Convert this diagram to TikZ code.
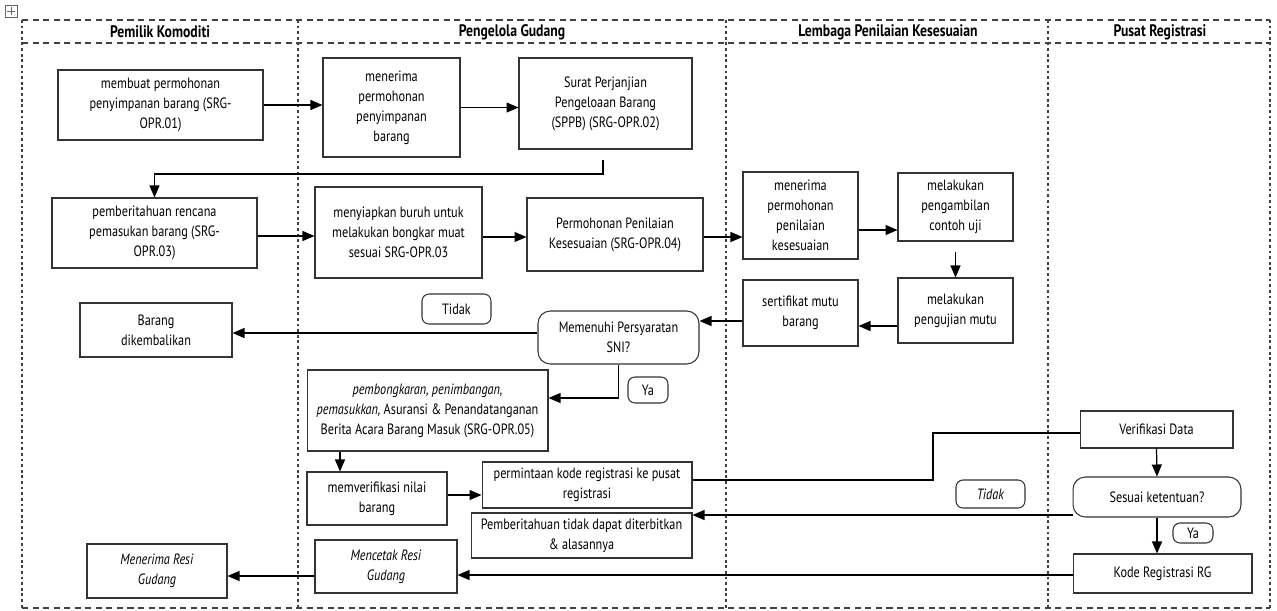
\documentclass[tikz,border=0pt]{standalone}
\usepackage{fontspec}
\setmainfont{PT Sans}[FakeStretch=0.82]
\usetikzlibrary{arrows.meta}

\begin{document}
\begin{tikzpicture}[x=0.02cm,y=-0.02cm,
    box/.style={draw=black!80,line width=0.6pt,align=center,inner sep=2pt,
      font=\fontsize{8.5}{11.4}\selectfont},
    ask/.style={box,rounded corners=7pt},
    tag/.style={box,rounded corners=4pt,inner sep=1pt},
    flow/.style={draw,line width=0.7pt,-{Triangle[length=2.4mm,width=2mm]}},
    lane/.style={draw=black!75,line width=0.7pt,dash pattern=on 1.6pt off 1.6pt},
    rim/.style={draw=black!75,line width=0.7pt,dash pattern=on 3.5pt off 2.5pt},
    head/.style={font=\fontsize{9.5}{11}\selectfont\bfseries}]

      \useasboundingbox (0,0) rectangle (1277,610);

      % table handle
      \draw[black!60,line width=0.4pt] (5,5) rectangle (17,17);
      \draw[black!60,line width=0.4pt] (11,7) -- (11,15) (7,11) -- (15,11);

      % lanes
      \draw[rim] (22,20) -- (1270,20) (22,43) -- (1270,43) (22,608) -- (1270,608);
      \draw[lane] (22,20) -- (22,608) (298,20) -- (298,608)
                  (726,20) -- (726,608) (1048,20) -- (1048,608)
                  (1270,20) -- (1270,608);

      \node[head] (h1) at (160,32)  {Pemilik Komoditi};
      \node[head] (h2) at (512,32)  {Pengelola Gudang};
      \node[head] (h3) at (888,32)  {Lembaga Penilaian Kesesuaian};
      \node[head] (h4) at (1160,32) {Pusat Registrasi};

      \begin{scope}[every node/.style={box}]
        \node[minimum width=4.10cm,minimum height=1.40cm] (A1) at (160.5,105)
          {membuat permohonan\\penyimpanan barang (SRG-\\OPR.01)};
        \node[minimum width=2.74cm,minimum height=1.98cm] (B1) at (391.5,107.5)
          {menerima\\permohonan\\penyimpanan\\barang};
        \node[minimum width=3.46cm,minimum height=1.82cm] (B2) at (605.5,103.5)
          {Surat Perjanjian\\Pengeloaan Barang\\(SPPB) (SRG-OPR.02)};
        \node[minimum width=4.10cm,minimum height=1.40cm] (A2) at (154.5,233)
          {pemberitahuan rencana\\pemasukan barang (SRG-\\OPR.03)};
        \node[minimum width=3.34cm,minimum height=1.82cm] (B3) at (398.5,232.5)
          {menyiapkan buruh untuk\\melakukan bongkar muat\\sesuai SRG-OPR.03};
        \node[minimum width=3.52cm,minimum height=1.46cm] (B4) at (615,234.5)
          {Permohonan Penilaian\\Kesesuaian (SRG-OPR.04)};
        \node[minimum width=2.30cm,minimum height=1.74cm] (C1) at (800.5,215.5)
          {menerima\\permohonan\\penilaian\\kesesuaian};
        \node[minimum width=2.30cm,minimum height=1.36cm] (C2) at (955.5,207)
          {melakukan\\pengambilan\\contoh uji};
        \node[minimum width=2.30cm,minimum height=1.30cm] (C3) at (955.5,310.5)
          {melakukan\\pengujian mutu};
        \node[minimum width=2.30cm,minimum height=1.32cm] (C4) at (800.5,313)
          {sertifikat mutu\\barang};
        \node[ask,minimum width=3.22cm,minimum height=1.06cm] (D1) at (618.5,337.5)
          {Memenuhi Persyaratan\\SNI?};
        \node[tag,minimum width=1.38cm,minimum height=0.60cm] (no1) at (456.5,309) {Tidak};
        \node[minimum width=3.04cm,minimum height=1.08cm] (A3) at (156,330)
          {Barang\\dikembalikan};
        \node[tag,minimum width=0.80cm,minimum height=0.52cm] (yes1) at (648,390) {Ya};
        \node[minimum width=4.82cm,minimum height=1.62cm] (B5) at (427.5,410.5)
          {\textit{pembongkaran, penimbangan,}\\\textit{pemasukkan,} Asuransi \& Penandatanganan\\Berita Acara Barang Masuk (SRG-OPR.05)};
        \node[minimum width=2.80cm,minimum height=1.06cm] (B6) at (377,498.5)
          {memverifikasi nilai\\barang};
        \node[minimum width=4.20cm,minimum height=0.92cm] (B7) at (587,485)
          {permintaan kode registrasi ke pusat\\registrasi};
        \node[minimum width=4.42cm,minimum height=0.90cm] (B8) at (581.5,535.5)
          {Pemberitahuan tidak dapat diterbitkan\\\& alasannya};
        \node[minimum width=2.84cm,minimum height=1.06cm] (B9) at (386,566.5)
          {\textit{Mencetak Resi}\\\textit{Gudang}};
        \node[minimum width=2.80cm,minimum height=1.08cm] (A4) at (157,571)
          {\textit{Menerima Resi}\\\textit{Gudang}};
        \node[minimum width=3.06cm,minimum height=0.74cm] (E1) at (1156.5,429.5)
          {Verifikasi Data};
        \node[ask,minimum width=3.36cm,minimum height=0.80cm] (E2) at (1157,497)
          {Sesuai ketentuan?};
        \node[tag,minimum width=1.38cm,minimum height=0.56cm] (no2) at (990.5,494) {\textit{Tidak}};
        \node[tag,minimum width=0.80cm,minimum height=0.40cm] (yes2) at (1193,533) {Ya};
        \node[minimum width=3.58cm,minimum height=0.78cm] (E3) at (1162.5,573.5)
          {Kode Registrasi RG};
      \end{scope}

      \coordinate (b2s) at (603,160);
      \coordinate (kink) at (933,433);

      \draw[flow] (A1.east) -- (A1.east -| B1.west);
      \draw[flow] (B1.east) -- (B1.east -| B2.west);
      \draw[flow] (b2s) -- ++(0,14) -| (A2.north);
      \draw[flow] (A2.east |- 0,236) -- (B3.west |- 0,236);
      \draw[flow] (B3.east |- 0,237) -- (B4.west |- 0,237);
      \draw[flow] (B4.east |- 0,237) -- (C1.west |- 0,237);
      \draw[flow] (C1.east |- 0,230) -- (C2.west |- 0,230);
      \draw[flow] ([yshift=-0.2cm]C2.south) -- (C3.north);
      \draw[flow] (C3.west |- 0,326) -- (C4.east |- 0,326);
      \draw[flow] (C4.west |- 0,321) -- (D1.east |- 0,321);
      \draw[flow] (D1.west |- 0,333) -- (A3.east |- 0,333);
      \draw[flow] (D1.south) |- ([yshift=0.25cm]B5.east);
      \draw[flow] (B5.south -| 340,0) -- (B6.north -| 340,0);
      \draw[flow] (B6.east |- 0,495) -- (B7.west |- 0,495);
      \draw[line width=0.7pt] (B7.east |- 0,480) -| (kink) -- (E1.west |- kink);
      \draw[flow] (E1.south) -- (E2.north);
      \draw[flow] (E2.west |- 0,515) -- (B8.east |- 0,515);
      \draw[flow] (E2.south) -- (E2.south |- E3.north);
      \draw[flow] (E3.west |- 0,575) -- (B9.east |- 0,575);
      \draw[flow] (B9.west |- 0,576) -- (A4.east |- 0,576);

    \end{tikzpicture}
\end{document}
